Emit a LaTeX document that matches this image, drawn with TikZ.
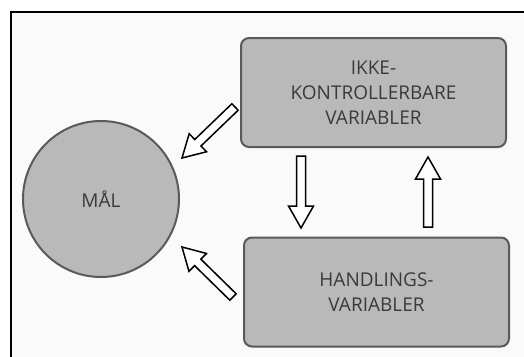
\documentclass[tikz,border=0pt]{standalone}
\usepackage{fontspec}
\setmainfont{Open Sans}
\usetikzlibrary{calc}
\definecolor{boxfill}{HTML}{B9B9B9}
\definecolor{boxline}{HTML}{5A5A5A}
\definecolor{paper}{HTML}{FAFAFA}
\definecolor{ink}{HTML}{3A3A3A}
\tikzset{
  box/.style={draw=boxline, fill=boxfill, line width=2pt, rounded corners=8pt,
    minimum width=265pt, minimum height=109pt, inner sep=0pt, text=ink,
    align=center, font=\fontsize{19}{25}\selectfont},
  goal/.style={circle, draw=boxline, fill=boxfill, line width=2pt,
    minimum size=156pt, inner sep=0pt, text=ink, font=\fontsize{19}{25}\selectfont},
  hollow/.style={draw=black, fill=white, line width=1.5pt, line join=miter}
}
\newcommand\hollowarrow[2]{%
  \path ($(#2)!22pt!(#1)$) coordinate (hb);
  \draw[hollow] ($(#1)!4.5pt!90:(#2)$) -- ($(hb)!4.5pt!90:(#2)$)
    -- ($(hb)!12.5pt!90:(#2)$) -- (#2) -- ($(hb)!12.5pt!-90:(#2)$)
    -- ($(hb)!4.5pt!-90:(#2)$) -- ($(#1)!4.5pt!-90:(#2)$) -- cycle;
}
\begin{document}
\begin{tikzpicture}[x=1pt, y=-1pt]
  \useasboundingbox (0,0) rectangle (524,356);
  \clip (0,0) rectangle (524,356);
  \draw[line width=2.5pt, fill=paper] (11,12) rectangle (540,370);
  \draw
    (373.5,92.5) node[box] (ikke) {IKKE-\\KONTROLLERBARE\\VARIABLER}
    (376.5,292) node[box] (handling) {HANDLINGS-\\VARIABLER}
    (101,199) node[goal] (maal) {MÅL};
  % arrow ends
  \coordinate (ikke-out) at (235,107);
  \coordinate (maal-in1) at (182,158);
  \coordinate (handling-out) at (233,297);
  \coordinate (maal-in2) at (182,247);
  \coordinate (down-s) at (301,156);
  \coordinate (down-e) at (301,228);
  \coordinate (up-s) at (428,227);
  \coordinate (up-e) at (428,157);
  \hollowarrow{ikke-out}{maal-in1}
  \hollowarrow{handling-out}{maal-in2}
  \hollowarrow{down-s}{down-e}
  \hollowarrow{up-s}{up-e}
\end{tikzpicture}
\end{document}
